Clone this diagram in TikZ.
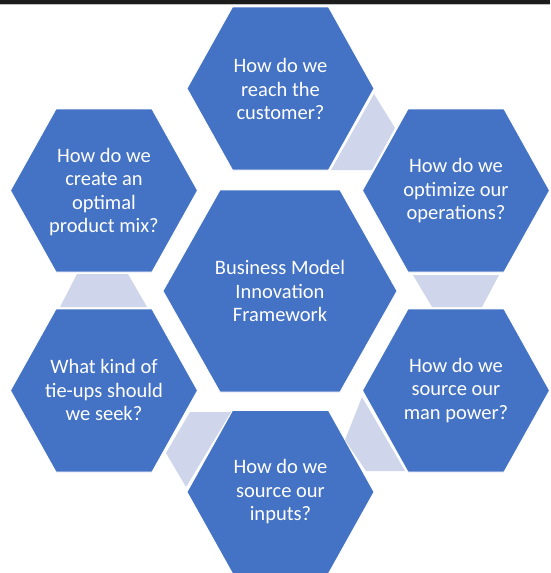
\documentclass[tikz,border=0pt]{standalone}
\usepackage{fontspec}
\setmainfont{Carlito}
\definecolor{hexblue}{HTML}{4472C4}
\definecolor{linkgray}{HTML}{CFD5EA}
\definecolor{topbar}{HTML}{1C1C1C}
\tikzset{
  hexfill/.style={fill=hexblue, draw=white, line width=0.8pt},
  linkfill/.style={fill=linkgray},
  hextext/.style={text=white, align=center, inner sep=0pt,
    font=\fontsize{20.5}{23.5}\selectfont}
}
\begin{document}
\begin{tikzpicture}[x=1pt,y=-1pt]
\useasboundingbox (0,0) rectangle (550,573);
\fill[white] (0,0) rectangle (550,573);
% top bar
\fill[topbar] (0,0) rectangle (550,4);
\fill[black!25] (0,4) rectangle (550,5.3);
% outer hexagons
\foreach \cx/\cy in {280.5/88.5, 456/190.5, 456/390.5, 280.5/492, 104/390.5, 104/190.5}{
  \path[hexfill] (\cx-93.5,\cy) -- (\cx-48,\cy-81.5) -- (\cx+48,\cy-81.5)
    -- (\cx+93.5,\cy) -- (\cx+48,\cy+81.5) -- (\cx-48,\cy+81.5) -- cycle;
}
% central hexagon
\path[hexfill] (163,291) -- (220,190) -- (340,190) -- (397,291) -- (340,392) -- (220,392) -- cycle;
% connectors
\path[linkfill] (374,94) -- (395,128) -- (372,170) -- (331,170) -- cycle;
\path[linkfill] (413,275) -- (499,275) -- (482,307) -- (432,307) -- cycle;
\path[linkfill] (362,397) -- (405,471) -- (366,471) -- (345,440) -- cycle;
\path[linkfill] (190,412) -- (231,412) -- (186,487) -- (166,453) -- cycle;
\path[linkfill] (77,274) -- (128,274) -- (147,307) -- (60,307) -- cycle;
% texts
\node[hextext] (center) at (280,291) {Business Model\\Innovation\\Framework};
\node[hextext] (reach) at (280.5,89) {How do we\\reach the\\customer?};
\node[hextext] (optimize) at (456,191) {How do we\\optimize our\\operations?};
\node[hextext] (manpower) at (456,390.5) {How do we\\source our\\man power?};
\node[hextext] (inputs) at (280.5,492) {How do we\\source our\\inputs?};
\node[hextext] (tieups) at (104,390) {What kind of\\tie-ups should\\we seek?};
\node[hextext] (mix) at (104,192) {How do we\\create an\\optimal\\product mix?};
\end{tikzpicture}
\end{document}
